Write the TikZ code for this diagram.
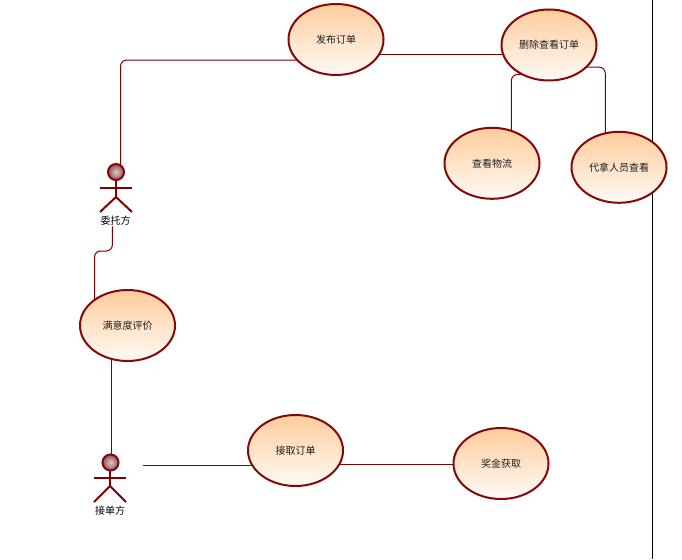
\documentclass[tikz,border=0pt]{standalone}
\usepackage{fontspec}
\setmainfont{Noto Sans CJK SC}
\usetikzlibrary{shapes.geometric,calc}
\definecolor{umlred}{RGB}{128,0,0}
\definecolor{umlborder}{RGB}{132,8,8}
\definecolor{umltop}{RGB}{255,204,156}
\definecolor{umlbot}{RGB}{255,250,246}
\definecolor{umltext}{RGB}{30,30,30}
\definecolor{headin}{RGB}{222,200,200}
\definecolor{headout}{RGB}{150,80,85}
\tikzset{
  usecase/.style={ellipse,draw=umlborder,line width=2pt,top color=umltop,bottom color=umlbot,
    minimum width=95pt,minimum height=71pt,inner sep=0pt,outer sep=0pt,text=umltext,font=\fontsize{10}{12}\selectfont},
  actorhead/.style={circle,draw=umlborder,line width=2pt,inner color=headin,outer color=headout,
    minimum size=16pt,inner sep=0pt,outer sep=0pt},
  actorlimb/.style={draw=umlred,line width=2pt},
  actorlabel/.style={inner sep=0pt,outer sep=1pt,text=black,font=\fontsize{10}{12}\selectfont},
  conn/.style={draw=umlred,line width=1pt},
  roundconn/.style={conn,rounded corners=6pt}
}
\begin{document}
\begin{tikzpicture}[x=1pt,y=-1pt]
\useasboundingbox (0,0) rectangle (682,559);
\fill[white] (0,0) rectangle (682,559);
\draw[black,line width=1pt] (652.5,0) -- (652.5,559);

\node[usecase] (fabu) at (336,39.5) {发布订单};
\node[usecase] (shan) at (549,45) {删除查看订单};
\node[usecase] (wuliu) at (492,163.3) {查看物流};
\node[usecase] (daina) at (619,167.3) {代拿人员查看};
\node[usecase] (manyi) at (127.5,325.5) {满意度评价};
\node[usecase] (jiequ) at (295.5,450.5) {接取订单};
\node[usecase] (jiang) at (501,463.5) {奖金获取};

\node[actorhead] (wt) at (116,172) {};
\node[actorlabel] (wtl) at (115.7,220.7) {委托方};
\node[actorhead] (jd) at (110.5,462.5) {};
\node[actorlabel] (jdl) at (110,510.5) {接单方};

\coordinate (wtb) at (116,197);
\draw[actorlimb] (wt.south) -- (wtb);
\draw[actorlimb] (100,188) -- (132,188);
\draw[actorlimb] (100,212) -- (wtb) -- (132,212);

\coordinate (jdb) at (110,486);
\draw[actorlimb] (jd.south -| jdb) -- (jdb);
\draw[actorlimb] (94,478) -- (126,478);
\draw[actorlimb] (94,502) -- (jdb) -- (126,502);

\coordinate (jdfree) at (143,465);
\coordinate (ebend) at (94.5,251);

\draw[roundconn] (wt.55) |- (fabu.208);
\draw[conn] (fabu.-19.7) -- (fabu.-19.7 -| shan.192.5);
\draw[roundconn] (shan.228.6) -| (wuliu.59);
\draw[roundconn] (shan.-31.4) -| (daina.112.4);
\draw[roundconn] ([xshift=-3.4pt]wtl.south) |- (ebend) -- (ebend |- manyi.142.3);
\draw[conn] (manyi.244.4) -- (manyi.244.4 |- jd.80);
\draw[conn] (jdfree) -- (jdfree -| jiequ.198.5);
\draw[conn] (jiequ.-18.5) -- (jiequ.-18.5 -| jiang.181.8);
\end{tikzpicture}
\end{document}
